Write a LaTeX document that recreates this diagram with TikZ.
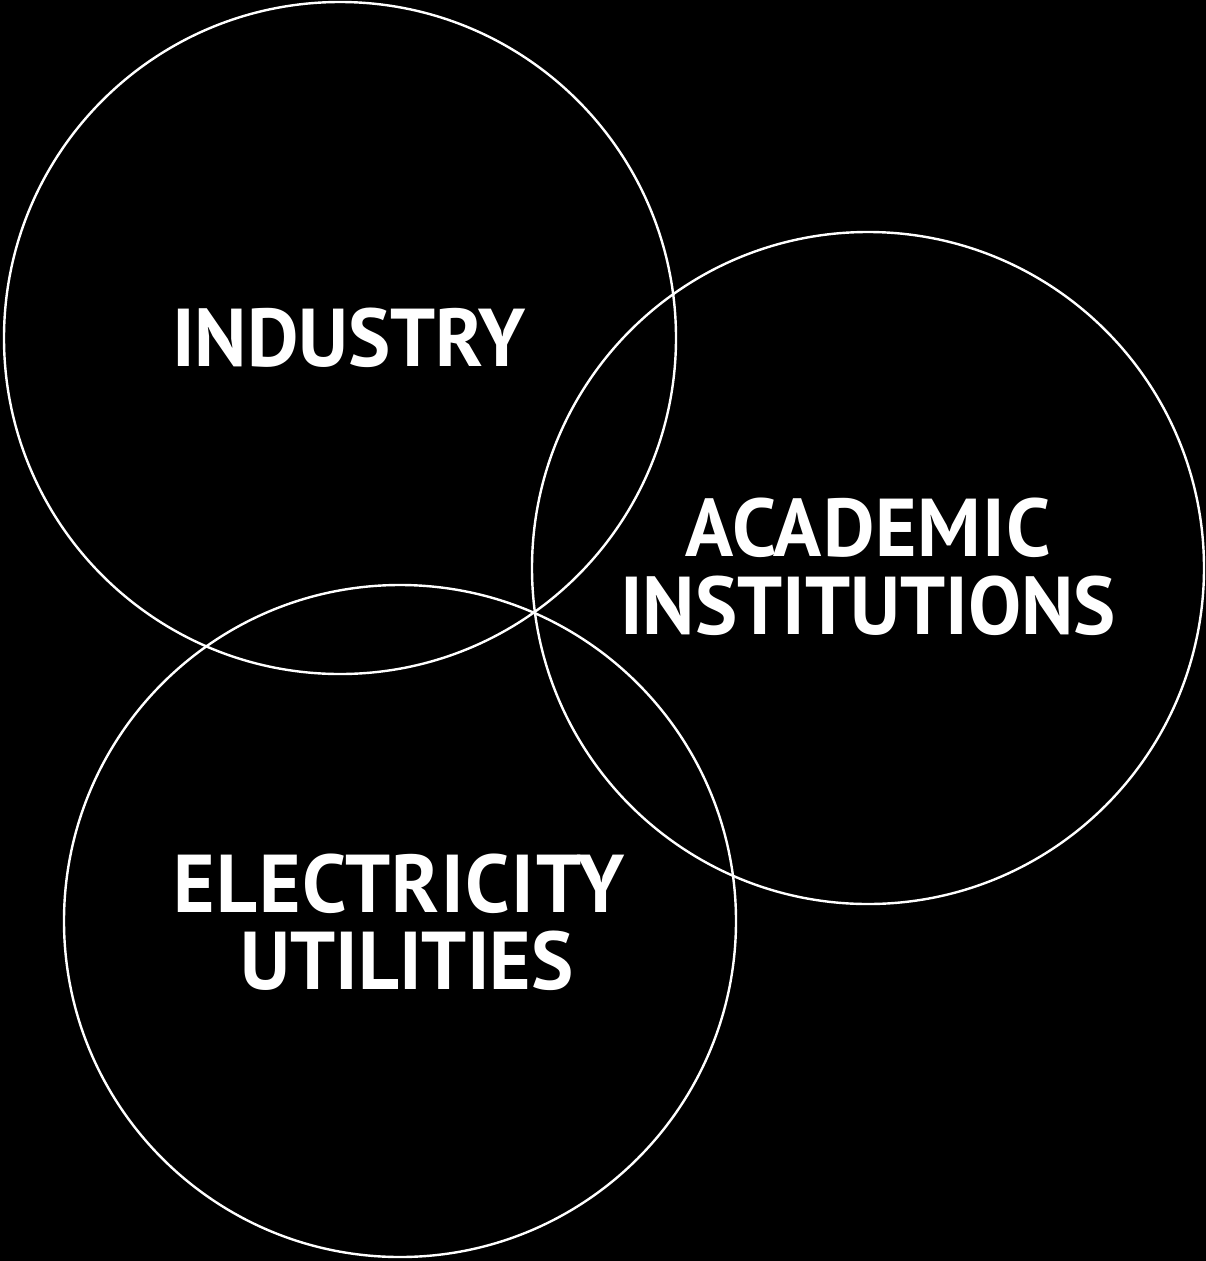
\documentclass[tikz,border=0pt]{standalone}
\usepackage{fontspec}
\setmainfont{PT Sans}
\newfontfamily\labelfont[FakeStretch=0.97]{PT Sans Bold}
\begin{document}
\begin{tikzpicture}[x=1bp,y=-1bp,
  ring/.style={draw=white,line width=2.4bp},
  lbl/.style={text=white,font=\labelfont\fontsize{82bp}{78bp}\selectfont,align=center,inner sep=0pt}]
\fill[black] (0,0) rectangle (1206,1261);
\useasboundingbox (0,0) rectangle (1206,1261);
\node[ring,circle,minimum size=672bp,inner sep=0pt] (ind) at (340,338) {};
\node[ring,circle,minimum size=672bp,inner sep=0pt] (aca) at (868,568) {};
\node[ring,circle,minimum size=672bp,inner sep=0pt] (ele) at (400,921) {};
\node[lbl,anchor=base] (tind) at (349,366) {INDUSTRY};
\node[lbl,anchor=base] (taca1) at (868,556) {\addfontfeature{LetterSpace=1.2}ACADEMIC};
\node[lbl,anchor=base] (taca2) at (868,634) {INSTITUTIONS};
\node[lbl,anchor=base] (tele1) at (399,912) {\addfontfeature{LetterSpace=2}ELECTRICITY};
\node[lbl,anchor=base] (tele2) at (407,989) {UTILITIES};
\end{tikzpicture}
\end{document}
